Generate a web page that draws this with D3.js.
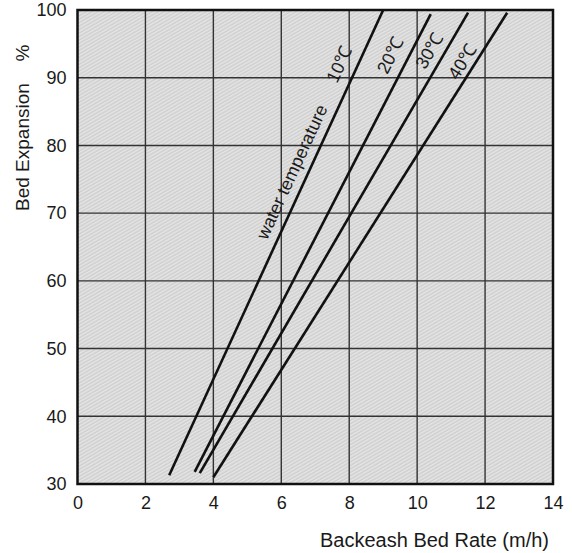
<!DOCTYPE html>
<html>
<head>
<meta charset="utf-8">
<script src="https://cdn.jsdelivr.net/npm/d3@7"></script>
<style>
  body { margin: 0; background: #fff; }
  text { font-family: "Liberation Sans", Arial, sans-serif; fill: #1a1a1a; }
</style>
</head>
<body>
<svg id="chart" width="572" height="553"></svg>
<script>
// ticks shown on the axes
const xTicks = [0, 2, 4, 6, 8, 10, 12, 14];
const yTicks = [30, 40, 50, 60, 70, 80, 90, 100];

// line labels (water temperature)
const temps = ["10℃", "20℃", "30℃", "40℃"];

// each line read at its two ends: [rate m/h, expansion %]
const line10 = [[2.7, 31.3], [9.0, 100]];
const line20 = [[3.45, 31.8], [10.4, 99.4]];
const line30 = [[3.6, 31.6], [11.5, 99.6]];
const line40 = [[4.0, 31.0], [12.65, 99.6]];
const lines = [line10, line20, line30, line40];

// where the labels sit (data coordinates)
const labelPos = [[7.75, 91.9], [9.25, 93.2], [10.4, 93.9], [11.37, 92.3]];
const noteText = "water temperature";
const notePos = [6.35, 76.0];

const svg = d3.select("#chart");
const plotL = 77.5, plotR = 553, plotT = 10, plotB = 484;

let x = d3.scaleLinear().domain([0, 14]).range([plotL, plotR]);
let y = d3.scaleLinear().domain([30, 100]).range([plotB, plotT]);

// hatched grey background
let defs = svg.append("defs");
let pat = defs.append("pattern")
  .attr("id", "hatch")
  .attr("width", 3)
  .attr("height", 3)
  .attr("patternUnits", "userSpaceOnUse")
  .attr("patternTransform", "rotate(-30)");
pat.append("rect").attr("width", 3).attr("height", 3).attr("fill", "#cfcfcf");
pat.append("rect").attr("width", 3).attr("height", 1.4).attr("fill", "#e6e6e6");

svg.append("rect")
  .attr("x", plotL).attr("y", plotT)
  .attr("width", plotR - plotL).attr("height", plotB - plotT)
  .attr("fill", "url(#hatch)");

// grid
svg.append("g").selectAll("line").data(xTicks.slice(1, -1)).join("line")
  .attr("x1", d => x(d)).attr("x2", d => x(d))
  .attr("y1", plotT).attr("y2", plotB)
  .attr("stroke", "#333").attr("stroke-width", 1.4);

svg.append("g").selectAll("line").data(yTicks.slice(1, -1)).join("line")
  .attr("x1", plotL).attr("x2", plotR)
  .attr("y1", d => y(d)).attr("y2", d => y(d))
  .attr("stroke", "#333").attr("stroke-width", 1.4);

// frame
svg.append("rect")
  .attr("x", plotL).attr("y", plotT)
  .attr("width", plotR - plotL).attr("height", plotB - plotT)
  .attr("fill", "none").attr("stroke", "#111").attr("stroke-width", 2.5);

// axes
let xAxis = d3.axisBottom(x).tickValues(xTicks).tickSize(0).tickPadding(12);
let gx = svg.append("g").attr("transform", `translate(0, ${plotB})`).call(xAxis);
gx.select(".domain").remove();
gx.selectAll("text").style("font-size", "18px").attr("fill", "#1a1a1a");

let yAxis = d3.axisLeft(y).tickValues(yTicks).tickSize(0).tickPadding(11);
let gy = svg.append("g").attr("transform", `translate(${plotL}, 0)`).call(yAxis);
gy.select(".domain").remove();
gy.selectAll("text").style("font-size", "18px").attr("fill", "#1a1a1a");

// axis titles
svg.append("text")
  .attr("transform", "translate(29, 211) rotate(-90)")
  .style("font-size", "19px")
  .text("Bed Expansion");
svg.append("text")
  .attr("transform", "translate(29, 53) rotate(-90)")
  .attr("text-anchor", "middle")
  .style("font-size", "19px")
  .text("%");

svg.append("text")
  .attr("x", 549).attr("y", 547)
  .attr("text-anchor", "end")
  .style("font-size", "20px")
  .text("Backeash Bed Rate  (m/h)");

// the four temperature lines
let lineGen = d3.line().x(d => x(d[0])).y(d => y(d[1]));

svg.append("g").selectAll("path").data(lines).join("path")
  .attr("d", lineGen)
  .attr("fill", "none")
  .attr("stroke", "#111")
  .attr("stroke-width", 2.6);

// angle of each line on screen
function angleOf(l) {
  let dx = x(l[1][0]) - x(l[0][0]);
  let dy = y(l[1][1]) - y(l[0][1]);
  return Math.atan2(dy, dx) * 180 / Math.PI;
}

svg.append("g").selectAll("text").data(temps).join("text")
  .attr("transform", (d, i) =>
    `translate(${x(labelPos[i][0])}, ${y(labelPos[i][1])}) rotate(${angleOf(lines[i])})`)
  .attr("text-anchor", "middle")
  .attr("dominant-baseline", "middle")
  .style("font-size", "18px")
  .text(d => d);

svg.append("text")
  .attr("transform", `translate(${x(notePos[0])}, ${y(notePos[1])}) rotate(${angleOf(line10)})`)
  .attr("text-anchor", "middle")
  .attr("dominant-baseline", "middle")
  .style("font-size", "18px")
  .text(noteText);
</script>
</body>
</html>
